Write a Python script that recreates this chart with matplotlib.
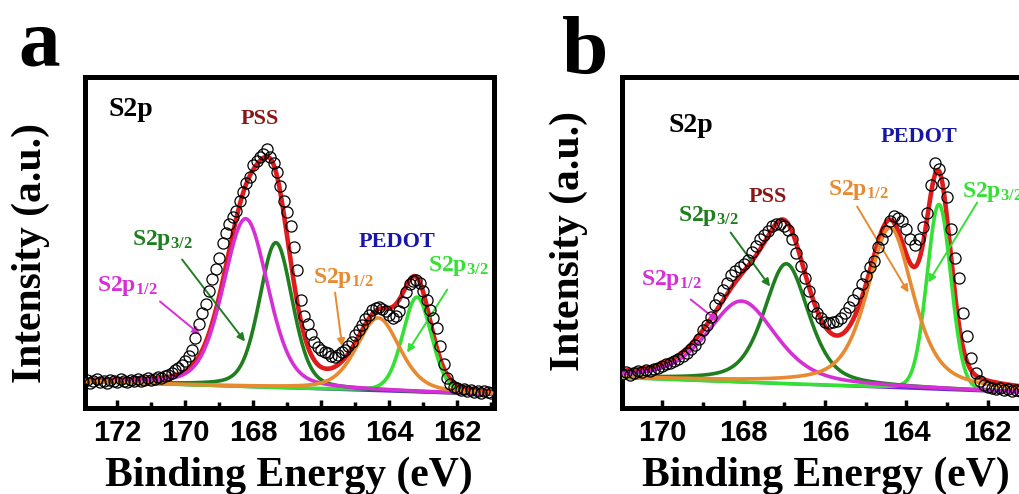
import numpy as np
import matplotlib
matplotlib.use('Agg')
import matplotlib.pyplot as plt
from matplotlib.ticker import MultipleLocator

plt.rcParams['font.family'] = ['Liberation Serif', 'DejaVu Serif']
plt.rcParams['mathtext.fontset'] = 'custom'
plt.rcParams['mathtext.rm'] = 'Liberation Serif:bold'
plt.rcParams['mathtext.it'] = 'Liberation Serif:bold'
plt.rcParams['mathtext.bf'] = 'Liberation Serif:bold'

# ---- panel a: measured S2p spectrum (0.1 eV steps, 173.0 -> 161.0)
a_energy = np.round(np.arange(173.0, 160.95, -0.1), 1)
a_counts = [26, 28, 25, 27, 29, 26, 27, 25, 28, 27, 26, 29, 27, 26, 28, 27, 29, 27, 28, 30,
            28, 29, 31, 30, 32, 33,
            35, 38, 40, 43, 47, 52, 58, 70, 84, 95,
            104, 117, 129, 139, 150, 164, 174, 183, 190, 196,
            206, 215, 224, 230, 242, 246, 250, 253, 258, 250,
            244, 235, 221, 206, 195, 181, 160, 138, 108, 92,
            84, 74, 66, 61, 58, 56, 55, 52, 51, 53,
            56, 58, 62, 66, 73, 78, 83, 89, 93, 98,
            100, 101, 99, 97, 93, 90, 92, 97, 106, 116,
            124, 127, 128, 125, 117, 108, 98, 90, 80, 62,
            44, 30, 24, 21, 20, 18, 19, 17, 18, 16,
            17, 15, 17, 16, 15]

# fitted components: PSS 2p1/2, PSS 2p3/2, PEDOT 2p1/2, PEDOT 2p3/2
a_center = [168.22, 167.33, 164.32, 163.18]
a_height = [168, 145, 73, 95]
a_fwhm = [1.55, 1.15, 1.5, 1.0]
a_eta = [0.3, 0.3, 0.4, 0.2]
a_bg = [26, 13]          # background at 173 eV and 161 eV
a_bg_x = [173.0, 161.0]
a_ticks = [172, 170, 168, 166, 164, 162]

# ---- panel b: measured S2p spectrum (0.1 eV steps, 171.0 -> 160.9)
b_energy = np.round(np.arange(171.0, 160.85, -0.1), 1)
b_counts = [34, 36, 33, 35, 37, 36, 38, 37, 39, 40,
            42, 44, 45, 47, 49, 52, 55, 59, 63, 69,
            78, 83, 91, 103, 110, 118, 125, 133, 137, 141,
            144, 148, 155, 161, 168, 172, 176, 181, 183, 183,
            181, 177, 168, 154, 142, 130, 117, 102, 95, 90,
            86, 85, 86, 87, 90, 95, 101, 108, 115, 124,
            132, 141, 147, 160, 168, 176, 186, 191, 189, 186,
            178, 168, 162, 168, 180, 194, 222, 244, 238, 224,
            210, 178, 150, 130, 95, 72, 50, 35, 27, 23,
            21, 20, 19, 20, 18, 19, 17, 18, 17, 18, 16, 17]

b_center = [168.05, 166.95, 164.40, 163.20]
b_height = [81, 120, 160, 185]
b_fwhm = [2.0, 1.3, 1.35, 0.7]
b_eta = [0.5, 0.5, 0.6, 0.1]
b_bg = [30, 15]
b_bg_x = [171.06, 161.2]
b_ticks = [170, 168, 166, 164, 162]

comp_colors = ['#d62fd6', '#1f7f1f', '#e88a30', '#35e035']
fit_color = '#e01b1b'
bg_color = '#6a2ad8'


def pvoigt(x, c, h, w, eta):
    d = ((x - c) / w) ** 2
    g = np.exp(-4 * np.log(2) * d)
    l = 1.0 / (1 + 4 * d)
    return h * (eta * l + (1 - eta) * g)


def draw_panel(ax, energy, counts, center, height, fwhm, eta, bg, bg_x, xlim, ticks):
    x = np.linspace(xlim[0] + 0.2, xlim[1] - 0.3, 800)
    base = bg[1] + (bg[0] - bg[1]) * (x - bg_x[1]) / (bg_x[0] - bg_x[1])
    peaks = [pvoigt(x, c, h, w, e) for c, h, w, e in zip(center, height, fwhm, eta)]
    ax.plot(x, base, color=bg_color, lw=2, zorder=1)
    ax.plot(x, base + np.sum(peaks, axis=0), color=fit_color, lw=3.3, zorder=2)
    for i in [3, 1, 0, 2]:
        ax.plot(x, base + peaks[i], color=comp_colors[i], lw=2.6, zorder=3)
    ax.plot(energy, counts, 'o', ms=8, mfc='none', mec='black', mew=0.9, zorder=5)
    ax.set_xlim(*xlim)
    ax.set_ylim(0, 330)
    ax.set_yticks([])
    ax.xaxis.set_minor_locator(MultipleLocator(1))
    ax.set_xticks(ticks, [str(t) for t in ticks], fontfamily='Liberation Sans',
                  fontweight='bold', fontsize=21)
    ax.tick_params(axis='x', which='major', direction='in', length=6, width=2.5, pad=8)
    ax.tick_params(axis='x', which='minor', direction='in', length=4.5, width=2.5)
    for s in ax.spines.values():
        s.set_linewidth(3.6)
    ax.set_xlabel('Binding Energy (eV)', fontsize=30, fontweight='bold', va='baseline')
    ax.xaxis.set_label_coords(0.5, -0.238)
    ax.set_ylabel('Intensity (a.u.)', fontsize=30, fontweight='bold', va='center', ha='center')


def label(ax, x, y, txt, color, size=17):
    ax.text(x, y, txt, color=color, fontsize=size, fontweight='bold', va='baseline', ha='left')


def arrow(ax, tail, head, color):
    ax.annotate('', xy=head, xytext=tail,
                arrowprops=dict(arrowstyle='-|>', color=color, lw=1.4, mutation_scale=11,
                                shrinkA=0, shrinkB=0))


fig = plt.figure(figsize=(10.19, 4.94), dpi=100)
axA = fig.add_axes([84.5 / 1019, 86.5 / 494, 409 / 1019, 330 / 494])
axB = fig.add_axes([621.5 / 1019, 86.5 / 494, 409 / 1019, 330 / 494])

draw_panel(axA, a_energy, a_counts, a_center, a_height, a_fwhm, a_eta, a_bg, a_bg_x,
           (172.96, 160.93), a_ticks)
draw_panel(axB, b_energy, b_counts, b_center, b_height, b_fwhm, b_eta, b_bg, b_bg_x,
           (171.0, 160.95), b_ticks)
axA.yaxis.set_label_coords(-0.131, 0.468)
axB.yaxis.set_label_coords(-0.128, 0.505)

s32 = r'$\mathrm{S2p}_{3/2}$'
s12 = r'$\mathrm{S2p}_{1/2}$'

# panel a annotations
label(axA, 172.26, 291, 'S2p', 'black', 20)
label(axA, 168.38, 284, 'PSS', '#8c1616', 16)
label(axA, 164.91, 161, 'PEDOT', '#1616a8', 16)
label(axA, 171.56, 163, s32, comp_colors[1])
label(axA, 172.59, 116, s12, comp_colors[0])
label(axA, 166.24, 125, s12, comp_colors[2])
label(axA, 162.85, 136, s32, comp_colors[3])
arrow(axA, (170.74, 106), (169.56, 73), comp_colors[0])
arrow(axA, (170.09, 148), (168.24, 66), comp_colors[1])
arrow(axA, (165.59, 115), (165.38, 61), comp_colors[2])
arrow(axA, (162.29, 118), (163.47, 55), comp_colors[3])

# panel b annotations
label(axB, 169.85, 275, 'S2p', 'black', 20)
label(axB, 164.64, 265, 'PEDOT', '#1616a8', 16)
label(axB, 167.88, 206, 'PSS', '#8c1616', 16)
label(axB, 165.92, 213, s12, comp_colors[2])
label(axB, 162.63, 211, s32, comp_colors[3])
label(axB, 169.62, 187, s32, comp_colors[1])
label(axB, 170.53, 123, s12, comp_colors[0])
arrow(axB, (169.30, 108), (168.62, 86), comp_colors[0])
arrow(axB, (168.32, 175), (167.35, 121), comp_colors[1])
arrow(axB, (165.21, 201), (163.95, 115), comp_colors[2])
arrow(axB, (162.26, 205), (163.46, 125), comp_colors[3])

fig.text(18 / 1019, 1 - 65 / 494, 'a', fontsize=60, fontweight='bold', va='baseline')
fig.text(562 / 1019, 1 - 73 / 494, 'b', fontsize=60, fontweight='bold', va='baseline')

fig.savefig('out.png', dpi=100)
